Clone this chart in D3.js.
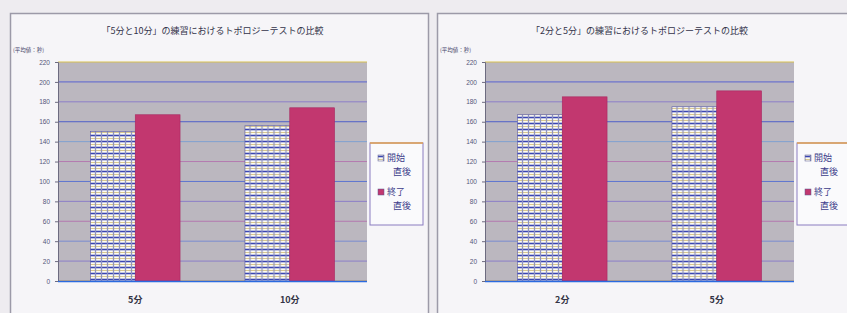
<!DOCTYPE html>
<html>
<head>
<meta charset="utf-8">
<script src="https://cdn.jsdelivr.net/npm/d3@7"></script>
<style>
  body { margin: 0; background: #eeecf0; }
  svg { display: block; font-family: "Noto Sans CJK JP", sans-serif; }
</style>
</head>
<body>
<script>
'use strict';

const seriesNames = ["開始直後", "終了直後"];
const legendLines = [["開始", "直後"], ["終了", "直後"]];
const yTicks = [0, 20, 40, 60, 80, 100, 120, 140, 160, 180, 200, 220];

const leftTitle = "「5分と10分」の練習におけるトポロジーテストの比較";
const leftCategories = ["5分", "10分"];
const leftStart = [150, 156];
const leftEnd = [167, 174];

const rightTitle = "「2分と5分」の練習におけるトポロジーテストの比較";
const rightCategories = ["2分", "5分"];
const rightStart = [167, 175];
const rightEnd = [185, 191];

const yLabel = "(平均値：秒)";

const W = 847, H = 313;
const svg = d3.select("body").append("svg").attr("width", W).attr("height", H);

// checkered hatch for the first series
const defs = svg.append("defs");
const pat = defs.append("pattern")
  .attr("id", "hatch").attr("patternUnits", "userSpaceOnUse")
  .attr("width", 6).attr("height", 6);
pat.append("rect").attr("width", 6).attr("height", 6).attr("fill", "#fdfcf2");
pat.append("line").attr("x1", 0).attr("x2", 6).attr("y1", 1.5).attr("y2", 1.5)
  .attr("stroke", "#3944b4").attr("stroke-width", 1.6);
pat.append("line").attr("x1", 0).attr("x2", 6).attr("y1", 4.5).attr("y2", 4.5)
  .attr("stroke", "#d8c890").attr("stroke-width", 1);
pat.append("line").attr("x1", 1.5).attr("x2", 1.5).attr("y1", 0).attr("y2", 6)
  .attr("stroke", "#8e92c0").attr("stroke-width", 1.3);

const colors = ["url(#hatch)", "#c2376f"];
const gridColors = ["#e0a040", "#8c7fc8", "#7a8cd0", "#b47ab0", "#8c7fc8", "#5e74d0",
  "#b47ab0", "#7fa0d0", "#5060c8", "#8c7fc8", "#5a62d0", "#d8c050"];

function drawChart(ox, title, categories, startVals, endVals) {
  const panelW = 418;
  const g = svg.append("g").attr("transform", `translate(${ox},13)`);

  g.append("rect").attr("x", 0.5).attr("y", 0.5)
    .attr("width", panelW).attr("height", H)
    .attr("fill", "#f6f5f8").attr("stroke", "#9c9aa8").attr("stroke-width", 1.5);

  const margin = {left: 48, top: 49};
  const plotW = 309, plotH = 219;
  const plot = g.append("g").attr("transform", `translate(${margin.left},${margin.top})`);

  const y = d3.scaleLinear().domain([0, 220]).range([plotH, 0]);
  const x0 = d3.scaleBand().domain(categories).range([0, plotW]);
  const x1 = d3.scaleBand().domain(seriesNames)
    .range([x0.bandwidth() * 0.21, x0.bandwidth() * 0.79]);

  plot.append("rect").attr("width", plotW).attr("height", plotH).attr("fill", "#bbb7bf");

  plot.selectAll(".grid").data(yTicks).enter().append("line")
    .attr("x1", 0).attr("x2", plotW)
    .attr("y1", d => y(d)).attr("y2", d => y(d))
    .attr("stroke", (d, i) => gridColors[i]).attr("stroke-width", 1);

  const rows = categories.map((c, i) => ({cat: c, vals: [startVals[i], endVals[i]]}));
  plot.selectAll(".grp").data(rows).enter().append("g")
    .attr("transform", d => `translate(${x0(d.cat)},0)`)
    .selectAll("rect").data(d => d.vals.map((v, k) => ({k: k, v: v}))).enter()
    .append("rect")
    .attr("x", d => x1(seriesNames[d.k]))
    .attr("width", x1.bandwidth())
    .attr("y", d => y(d.v))
    .attr("height", d => plotH - y(d.v))
    .attr("fill", d => colors[d.k])
    .attr("stroke", d => d.k ? "#a82860" : "#5a5aa8")
    .attr("stroke-width", 0.6);

  // axes
  const yAxis = plot.append("g").call(d3.axisLeft(y).tickValues(yTicks).tickSize(3).tickPadding(5));
  yAxis.select(".domain").attr("stroke", "#6d6b80");
  yAxis.selectAll("text").attr("font-size", 6.5).attr("fill", "#55557a");
  yAxis.selectAll(".tick line").attr("stroke", "#6d6b80");

  plot.append("line").attr("x1", 0).attr("x2", plotW).attr("y1", plotH + 0.5).attr("y2", plotH + 0.5)
    .attr("stroke", "#2a6ae0").attr("stroke-width", 1.6);

  plot.selectAll(".xl").data(categories).enter().append("text")
    .attr("x", d => x0(d) + x0.bandwidth() / 2)
    .attr("y", plotH + 22)
    .attr("text-anchor", "middle")
    .attr("font-size", 9).attr("font-weight", "bold").attr("fill", "#333344")
    .text(d => d);

  g.append("text").attr("x", margin.left + plotW / 2).attr("y", 21)
    .attr("text-anchor", "middle").attr("font-size", 9).attr("fill", "#33334a")
    .text(title);

  g.append("text").attr("x", 3).attr("y", 39)
    .attr("font-size", 5.5).attr("fill", "#44446a").text(yLabel);

  // legend
  const lg = g.append("g").attr("transform", `translate(${margin.left + plotW + 3},130)`);
  lg.append("rect").attr("width", 53).attr("height", 82)
    .attr("fill", "#fafafc").attr("stroke", "#8a7cc0").attr("stroke-width", 1);
  lg.append("line").attr("x1", 0).attr("x2", 53).attr("y1", 0).attr("y2", 0)
    .attr("stroke", "#e0a050").attr("stroke-width", 1.5);
  const items = lg.selectAll(".li").data(seriesNames).enter().append("g")
    .attr("transform", (d, i) => `translate(0,${18 + i * 34})`);
  items.append("rect").attr("x", 8).attr("y", -6).attr("width", 6).attr("height", 6)
    .attr("fill", (d, i) => colors[i]).attr("stroke", "#5a5a90").attr("stroke-width", 0.5);
  items.each(function(d, i) {
    d3.select(this).selectAll("text").data(legendLines[i]).enter().append("text")
      .attr("x", 17).attr("dx", (t, j) => j ? 6 : 0).attr("y", (t, j) => j * 14)
      .attr("font-size", 9).attr("fill", "#3c3c8a").text(t => t);
  });
}

drawChart(10, leftTitle, leftCategories, leftStart, leftEnd);
drawChart(437, rightTitle, rightCategories, rightStart, rightEnd);
</script>
</body>
</html>
